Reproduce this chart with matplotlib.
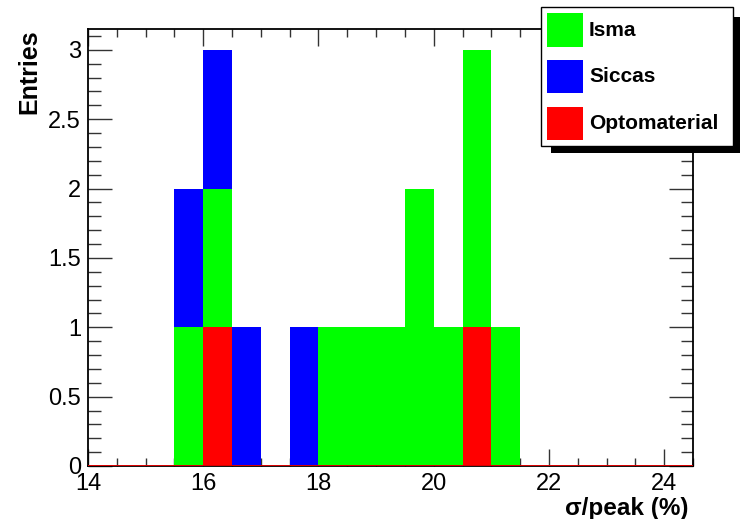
import matplotlib
matplotlib.use("Agg")
import matplotlib.pyplot as plt
from matplotlib.patches import Rectangle
from matplotlib.ticker import MultipleLocator, FuncFormatter
import numpy as np

plt.rcParams['font.family'] = ['Liberation Sans', 'DejaVu Sans']

# left edges of the filled bins (width 0.5) and counts per sample
bin_lo = [15.5, 16.0, 16.5, 17.5, 18.0, 18.5, 19.0, 19.5, 20.0, 20.5, 21.0]
opto   = [0, 1, 0, 0, 0, 0, 0, 0, 0, 1, 0]
isma   = [1, 1, 0, 0, 1, 1, 1, 2, 1, 2, 1]
siccas = [1, 1, 1, 1, 0, 0, 0, 0, 0, 0, 0]

names  = ["Isma", "Siccas", "Optomaterial"]
colors = ["#00ff00", "#0000ff", "#ff0000"]
bin_w = 0.5

W, H = 750, 519
fig = plt.figure(figsize=(W / 100, H / 100), dpi=100)
ax = fig.add_axes([88 / W, 1 - 466 / H, (693 - 88) / W, (466 - 29) / H])

# stack: optomaterial at the bottom, then isma, then siccas
base = np.zeros(len(bin_lo))
for vals, col in [(opto, colors[2]), (isma, colors[0]), (siccas, colors[1])]:
    v = np.array(vals, dtype=float)
    ax.bar(bin_lo, v, width=bin_w, bottom=base, align='edge', color=col,
           linewidth=0, zorder=2)
    base += v

ax.axhline(0, color="#ff0000", lw=1.2, zorder=3)

ax.set_xlim(14, 24.5)
ax.set_ylim(0, 3.15)

ax.xaxis.set_major_locator(MultipleLocator(2))
ax.xaxis.set_minor_locator(MultipleLocator(0.5))
ax.yaxis.set_major_locator(MultipleLocator(0.5))
ax.yaxis.set_minor_locator(MultipleLocator(0.1))
ax.yaxis.set_major_formatter(FuncFormatter(lambda v, p: f"{v:g}"))

ax.tick_params(axis='both', which='both', direction='in', top=True, right=True,
               labelsize=17, width=1, color='#333333')
ax.tick_params(axis='x', which='major', length=12, pad=5)
ax.tick_params(axis='x', which='minor', length=6)
ax.tick_params(axis='y', which='major', length=17, pad=5)
ax.tick_params(axis='y', which='minor', length=9)
for s in ax.spines.values():
    s.set_linewidth(1.3)

ax.set_xlabel("\u03c3/peak (%)", fontsize=17.5, fontweight='bold')
ax.xaxis.set_label_coords(0.993, -0.07)
ax.xaxis.label.set_horizontalalignment('right')
ax.set_ylabel("Entries", fontsize=18, fontweight='bold')
ax.yaxis.set_label_coords(-0.086, 1.0)
ax.yaxis.label.set_verticalalignment('baseline')
ax.yaxis.label.set_horizontalalignment('right')


def px(x, y):
    return x / W, 1 - y / H


# legend box with drop shadow
x0, y0 = px(551, 153)
fig.add_artist(Rectangle((x0, y0), (740 - 551) / W, (153 - 17) / H,
                         transform=fig.transFigure, facecolor='black', zorder=5))
x0, y0 = px(541, 146)
fig.add_artist(Rectangle((x0, y0), (733 - 541) / W, (146 - 7) / H,
                         transform=fig.transFigure, facecolor='white',
                         edgecolor='black', lw=1, zorder=6))
rows = [(13, 47), (60, 93), (107, 140)]
for name, col, (t, b) in zip(names, colors, rows):
    x0, y0 = px(547, b)
    fig.add_artist(Rectangle((x0, y0), 36 / W, (b - t) / H,
                             transform=fig.transFigure, facecolor=col,
                             linewidth=0, zorder=7))
    tx, ty = px(589, (t + b) / 2)
    fig.text(tx, ty, name, fontsize=15, fontweight='bold', va='center',
             ha='left', zorder=8)

fig.savefig("out.png", dpi=100)
